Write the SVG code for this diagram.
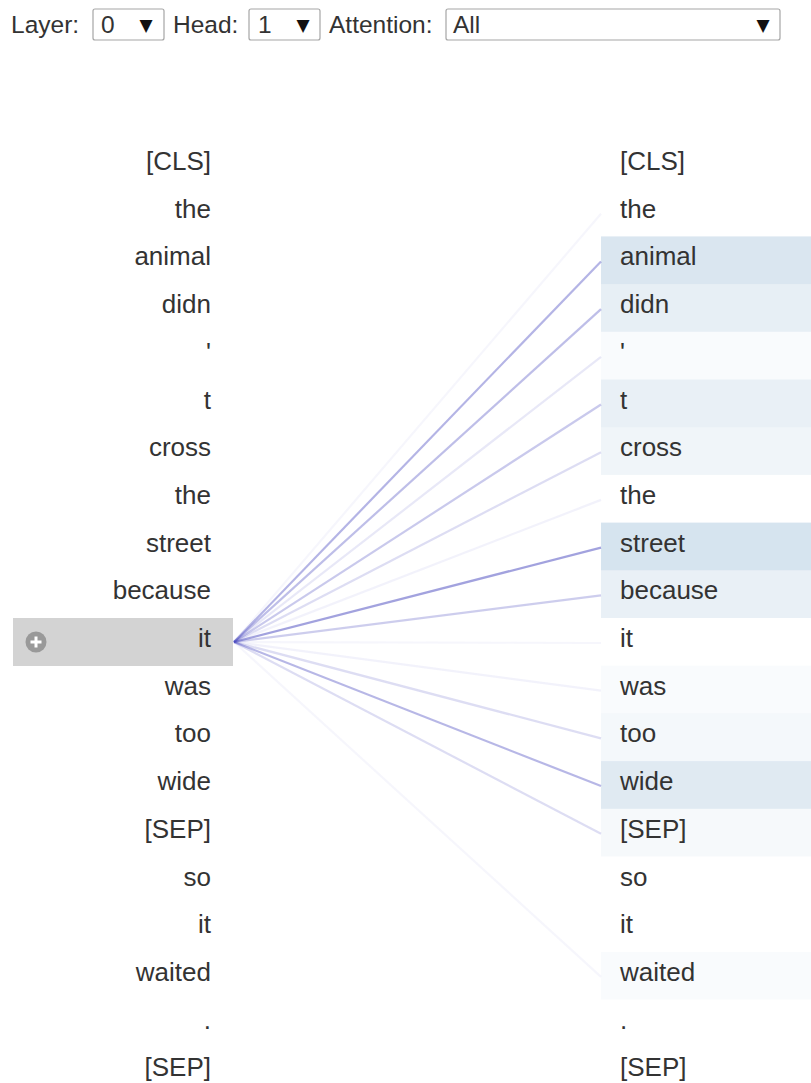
<svg xmlns="http://www.w3.org/2000/svg" width="811" height="1083" viewBox="0 0 811 1083">
  <style>
    .lbl { font-family: "Liberation Sans", Arial, sans-serif; font-size: 24.5px; fill: #333; }
    .tok { font-family: "Liberation Sans", Arial, sans-serif; font-size: 26px; fill: #333; }
    .left { text-anchor: end; }
    .sel { fill: #fff; stroke: #a6a6a6; stroke-width: 1.2; }
    .arrow { font-family: "DejaVu Sans", sans-serif; font-size: 17px; fill: #111; text-anchor: middle; }
    .att { fill: #4682b4; }
    .conn line { stroke: #4c4cc0; stroke-width: 2.2; fill: none; }
  </style>

  <!-- controls -->
  <g id="controls">
    <text class="lbl" x="11" y="33">Layer:</text>
    <rect class="sel" x="93" y="9" width="71" height="31" rx="2"/>
    <text class="lbl" x="101" y="33">0</text>
    <text class="arrow" x="146" y="31">▼</text>

    <text class="lbl" x="173" y="33">Head:</text>
    <rect class="sel" x="249" y="9" width="71" height="31" rx="2"/>
    <text class="lbl" x="258" y="33">1</text>
    <text class="arrow" x="303" y="31">▼</text>

    <text class="lbl" x="329" y="33">Attention:</text>
    <rect class="sel" x="446" y="9" width="334" height="31" rx="2"/>
    <text class="lbl" x="453" y="33">All</text>
    <text class="arrow" x="763" y="31">▼</text>
  </g>

  <!-- attention weight backgrounds, right column -->
  <g id="right-weights">
    <rect class="att" x="601" y="236.4" width="210" height="47.7" opacity="0.2"/>
    <rect class="att" x="601" y="284.1" width="210" height="47.7" opacity="0.13"/>
    <rect class="att" x="601" y="331.8" width="210" height="47.7" opacity="0.03"/>
    <rect class="att" x="601" y="379.5" width="210" height="47.7" opacity="0.12"/>
    <rect class="att" x="601" y="427.2" width="210" height="47.7" opacity="0.08"/>
    <rect class="att" x="601" y="522.6" width="210" height="47.7" opacity="0.22"/>
    <rect class="att" x="601" y="570.3" width="210" height="47.7" opacity="0.12"/>
    <rect class="att" x="601" y="665.7" width="210" height="47.7" opacity="0.03"/>
    <rect class="att" x="601" y="713.4" width="210" height="47.7" opacity="0.06"/>
    <rect class="att" x="601" y="761.1" width="210" height="47.7" opacity="0.17"/>
    <rect class="att" x="601" y="808.8" width="210" height="47.7" opacity="0.05"/>
    <rect class="att" x="601" y="951.9" width="210" height="47.7" opacity="0.03"/>
  </g>

  <!-- attention lines from the selected token -->
  <g id="connectors" class="conn">
    <line x1="234" y1="642" x2="601" y2="213.7" stroke-opacity="0.05"/>
    <line x1="234" y1="642" x2="601" y2="261.4" stroke-opacity="0.42"/>
    <line x1="234" y1="642" x2="601" y2="309.1" stroke-opacity="0.36"/>
    <line x1="234" y1="642" x2="601" y2="356.8" stroke-opacity="0.13"/>
    <line x1="234" y1="642" x2="601" y2="404.5" stroke-opacity="0.3"/>
    <line x1="234" y1="642" x2="601" y2="452.2" stroke-opacity="0.19"/>
    <line x1="234" y1="642" x2="601" y2="499.9" stroke-opacity="0.07"/>
    <line x1="234" y1="642" x2="601" y2="547.6" stroke-opacity="0.52"/>
    <line x1="234" y1="642" x2="601" y2="595.3" stroke-opacity="0.28"/>
    <line x1="234" y1="642" x2="601" y2="643" stroke-opacity="0.05"/>
    <line x1="234" y1="642" x2="601" y2="690.7" stroke-opacity="0.07"/>
    <line x1="234" y1="642" x2="601" y2="738.4" stroke-opacity="0.19"/>
    <line x1="234" y1="642" x2="601" y2="786.1" stroke-opacity="0.4"/>
    <line x1="234" y1="642" x2="601" y2="833.8" stroke-opacity="0.19"/>
    <line x1="234" y1="642" x2="601" y2="976.9" stroke-opacity="0.05"/>
  </g>

  <!-- left column tokens -->
  <g id="left-0"><text class="tok left" x="211" y="170">[CLS]</text></g>
  <g id="left-1"><text class="tok left" x="211" y="217.7">the</text></g>
  <g id="left-2"><text class="tok left" x="211" y="265.4">animal</text></g>
  <g id="left-3"><text class="tok left" x="211" y="313.1">didn</text></g>
  <g id="left-4"><text class="tok left" x="211" y="360.8">'</text></g>
  <g id="left-5"><text class="tok left" x="211" y="408.5">t</text></g>
  <g id="left-6"><text class="tok left" x="211" y="456.2">cross</text></g>
  <g id="left-7"><text class="tok left" x="211" y="503.9">the</text></g>
  <g id="left-8"><text class="tok left" x="211" y="551.6">street</text></g>
  <g id="left-9"><text class="tok left" x="211" y="599.3">because</text></g>
  <g id="left-10">
    <rect x="13" y="618" width="220" height="48" fill="#d3d3d3"/>
    <circle cx="36" cy="642" r="10.5" fill="#999"/>
    <line x1="30.5" y1="642" x2="41.5" y2="642" stroke="#fff" stroke-width="3"/>
    <line x1="36" y1="636.5" x2="36" y2="647.5" stroke="#fff" stroke-width="3"/>
    <text class="tok left" x="211" y="647">it</text>
  </g>
  <g id="left-11"><text class="tok left" x="211" y="694.7">was</text></g>
  <g id="left-12"><text class="tok left" x="211" y="742.4">too</text></g>
  <g id="left-13"><text class="tok left" x="211" y="790.1">wide</text></g>
  <g id="left-14"><text class="tok left" x="211" y="837.8">[SEP]</text></g>
  <g id="left-15"><text class="tok left" x="211" y="885.5">so</text></g>
  <g id="left-16"><text class="tok left" x="211" y="933.2">it</text></g>
  <g id="left-17"><text class="tok left" x="211" y="980.9">waited</text></g>
  <g id="left-18"><text class="tok left" x="211" y="1028.6">.</text></g>
  <g id="left-19"><text class="tok left" x="211" y="1076.3">[SEP]</text></g>

  <!-- right column tokens -->
  <g id="right-0"><text class="tok" x="620" y="170">[CLS]</text></g>
  <g id="right-1"><text class="tok" x="620" y="217.7">the</text></g>
  <g id="right-2"><text class="tok" x="620" y="265.4">animal</text></g>
  <g id="right-3"><text class="tok" x="620" y="313.1">didn</text></g>
  <g id="right-4"><text class="tok" x="620" y="360.8">'</text></g>
  <g id="right-5"><text class="tok" x="620" y="408.5">t</text></g>
  <g id="right-6"><text class="tok" x="620" y="456.2">cross</text></g>
  <g id="right-7"><text class="tok" x="620" y="503.9">the</text></g>
  <g id="right-8"><text class="tok" x="620" y="551.6">street</text></g>
  <g id="right-9"><text class="tok" x="620" y="599.3">because</text></g>
  <g id="right-10"><text class="tok" x="620" y="647">it</text></g>
  <g id="right-11"><text class="tok" x="620" y="694.7">was</text></g>
  <g id="right-12"><text class="tok" x="620" y="742.4">too</text></g>
  <g id="right-13"><text class="tok" x="620" y="790.1">wide</text></g>
  <g id="right-14"><text class="tok" x="620" y="837.8">[SEP]</text></g>
  <g id="right-15"><text class="tok" x="620" y="885.5">so</text></g>
  <g id="right-16"><text class="tok" x="620" y="933.2">it</text></g>
  <g id="right-17"><text class="tok" x="620" y="980.9">waited</text></g>
  <g id="right-18"><text class="tok" x="620" y="1028.6">.</text></g>
  <g id="right-19"><text class="tok" x="620" y="1076.3">[SEP]</text></g>
</svg>
